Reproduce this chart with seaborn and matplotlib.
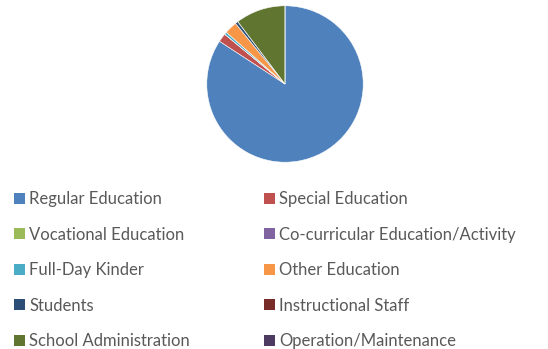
import matplotlib
matplotlib.use("Agg")
import matplotlib.pyplot as plt
from matplotlib.patches import Patch
import seaborn as sns

categories = [
    "Regular Education", "Special Education", "Vocational Education",
    "Co-curricular Education/Activity", "Full-Day Kinder", "Other Education",
    "Students", "Instructional Staff", "School Administration",
    "Operation/Maintenance",
]
shares = [84.2, 1.8, 0.0, 0.0, 0.5, 2.6, 0.6, 0.0, 10.3, 0.0]
colors = ["#4F81BD", "#C0504D", "#9BBB59", "#8064A2", "#4BACC6",
          "#F79646", "#2C4D75", "#772C2A", "#5F7530", "#4D3B62"]

sns.set_style("white")
plt.rcParams["font.family"] = ["Lato", "DejaVu Sans"]

W, H = 548, 349
fig = plt.figure(figsize=(W / 100, H / 100), dpi=100)
cx, cy, r = 285, 84, 79
ax = fig.add_axes([(cx - r) / W, (H - cy - r) / H, 2 * r / W, 2 * r / H])
ax.pie(shares, colors=colors, startangle=90, counterclock=False, radius=1,
       wedgeprops=dict(linewidth=0.4, edgecolor="white"))
ax.set_xlim(-1.01, 1.01)
ax.set_ylim(-1.01, 1.01)
ax.set_aspect("equal")
ax.axis("off")

# legend laid out in two columns, filled row by row
order = [0, 2, 4, 6, 8, 1, 3, 5, 7, 9]
handles = [Patch(facecolor=colors[i], edgecolor="none") for i in order]
labels = [categories[i] for i in order]
leg = fig.legend(handles, labels, ncol=2, loc="upper left",
                 bbox_to_anchor=(2 / W, 1 - 179.5 / H), frameon=False,
                 fontsize=12, labelcolor="#595959",
                 handlelength=0.66, handleheight=0.66, handletextpad=0.26,
                 labelspacing=1.17, columnspacing=4.45, borderpad=0.2)

fig.savefig("out.png", dpi=100, facecolor="white")
